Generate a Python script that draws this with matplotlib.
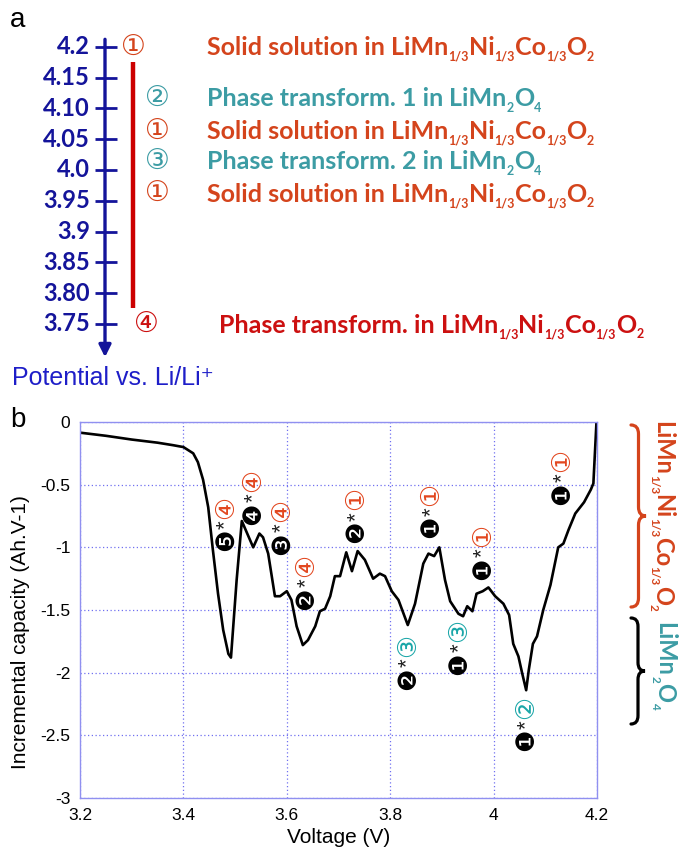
import numpy as np
import matplotlib
matplotlib.use('Agg')
import matplotlib.pyplot as plt
from matplotlib.path import Path
from matplotlib.patches import PathPatch
from matplotlib.transforms import offset_copy

W, H = 681, 858

# ---- panel (a): potential scale and the electrochemical steps ----
scale_ticks = [4.2, 4.15, 4.10, 4.05, 4.0, 3.95, 3.9, 3.85, 3.80, 3.75]
scale_labels = ['4.2', '4.15', '4.10', '4.05', '4.0', '3.95', '3.9', '3.85', '3.80', '3.75']
step_marks = ['①', '②', '①', '③', '①', '④']
step_volts = [4.2, 4.117, 4.064, 4.015, 3.962, 3.75]
step_kinds = ['ss', 'pt', 'ss', 'pt', 'ss', 'ptn']
# formula pieces: (text, is_subscript)
NMC = [('LiMn', False), ('1/3', True), ('Ni', False), ('1/3', True),
       ('Co', False), ('1/3', True), ('O', False), ('2', True)]
LMO = [('LiMn', False), ('2', True), ('O', False), ('4', True)]
step_heads = ['Solid solution in ', 'Phase transform. 1 in ', 'Solid solution in ',
              'Phase transform. 2 in ', 'Solid solution in ', 'Phase transform. in ']
step_phase = [NMC, LMO, NMC, LMO, NMC, NMC]
red_bar = [4.175, 3.776]

# ---- panel (b): incremental capacity curve ----
voltage = [3.200, 3.250, 3.300, 3.350, 3.380, 3.400, 3.419, 3.428, 3.438, 3.448,
           3.457, 3.467, 3.477, 3.487, 3.492, 3.503, 3.513, 3.535, 3.547, 3.554,
           3.564, 3.577, 3.587, 3.600, 3.609, 3.619, 3.631, 3.641, 3.655, 3.664,
           3.674, 3.684, 3.693, 3.703, 3.715, 3.726, 3.737, 3.751, 3.767, 3.780,
           3.790, 3.803, 3.816, 3.834, 3.848, 3.864, 3.874, 3.885, 3.895, 3.906,
           3.916, 3.932, 3.941, 3.949, 3.959, 3.967, 3.979, 3.990, 4.003, 4.019,
           4.030, 4.038, 4.048, 4.055, 4.063, 4.068, 4.076, 4.084, 4.096, 4.110,
           4.125, 4.135, 4.145, 4.158, 4.175, 4.188, 4.193, 4.199]
capacity = [-0.085, -0.110, -0.140, -0.165, -0.185, -0.200, -0.250, -0.320, -0.460, -0.680,
            -1.020, -1.370, -1.660, -1.850, -1.880, -1.260, -0.790, -1.000, -0.890, -0.920,
            -1.050, -1.390, -1.390, -1.350, -1.420, -1.630, -1.780, -1.740, -1.630, -1.510,
            -1.490, -1.390, -1.230, -1.230, -1.040, -1.190, -1.030, -1.100, -1.250, -1.210,
            -1.230, -1.350, -1.420, -1.620, -1.450, -1.130, -1.050, -1.070, -1.000, -1.260,
            -1.430, -1.530, -1.550, -1.470, -1.510, -1.370, -1.350, -1.320, -1.390, -1.450,
            -1.540, -1.770, -1.870, -2.000, -2.140, -1.980, -1.770, -1.710, -1.500, -1.300,
            -1.000, -0.970, -0.860, -0.730, -0.640, -0.540, -0.490, 0.000]

# peak labels: black numbered disc, asterisk, then the step marker above it
peak_v = [3.482, 3.535, 3.590, 3.637, 3.734, 3.879, 3.979, 4.133, 3.834, 3.934, 4.063]
peak_c = [-0.942, -0.729, -0.968, -1.407, -0.876, -0.840, -1.168, -0.569, -2.046, -1.926, -2.538]
peak_num = ['❺', '❹', '❸', '❷', '❷', '❶', '❶', '❶', '❷', '❶', '❶']
peak_step = ['④', '④', '④', '④', '①', '①', '①', '①', '③', '③', '②']

x_ticks = [3.2, 3.4, 3.6, 3.8, 4.0, 4.2]
x_labels = ['3.2', '3.4', '3.6', '3.8', '4', '4.2']
y_ticks = [0, -0.5, -1, -1.5, -2, -2.5, -3]
y_labels = ['0', '-0.5', '-1', '-1.5', '-2', '-2.5', '-3']

NAVY = '#14149a'
ORANGE = '#d4441c'
TEAL = '#3c9ca4'
RED = '#cc1010'
step_colors = {'ss': ORANGE, 'pt': TEAL, 'ptn': RED}
mark_colors = {'①': '#e2461e', '④': '#e2461e', '②': '#1aa6a8', '③': '#1aa6a8'}
GLYPHS = ['DejaVu Sans', 'Noto Sans CJK JP']

fig = plt.figure(figsize=(W / 100, H / 100), dpi=100)
rend = fig.canvas.get_renderer()


def chem_text(x, y, parts, size, color, transform, rotation=0, drop=0.0):
    """Write text with small subscripts piece by piece along the baseline."""
    ang = np.deg2rad(rotation)
    ux, uy = np.cos(ang), np.sin(ang)
    dx, dy = np.sin(ang), -np.cos(ang)
    k = fig.dpi / 72
    pos = 0.0
    for s, sub in parts:
        fs = size * 0.5 if sub else size
        shift = (drop + (size * 0.22 if sub else 0)) * k
        tr = offset_copy(transform, fig=fig, x=pos * ux + shift * dx,
                         y=pos * uy + shift * dy, units='dots')
        fig.text(x, y, s, transform=tr, rotation=rotation, rotation_mode='anchor',
                 ha='left', va='baseline', fontsize=fs, color=color,
                 family='Lato', fontweight='bold')
        probe = fig.text(0, 0, s.replace(' ', '\u00a0'), fontsize=fs,
                         family='Lato', fontweight='bold')
        pos += probe.get_window_extent(rend).width
        probe.remove()


# panel (a) axes: x in layout pixels, y in volts (46.7 px at 4.2 V, 616 px per volt)
a_bottom = 390
axa = fig.add_axes([0, 1 - a_bottom / H, 1, a_bottom / H])
axa.set_xlim(0, W)
axa.set_ylim(4.2 - (a_bottom - 46.7) / 616, 4.2 + 46.7 / 616)
axa.axis('off')

axa.annotate('', xy=(105, 3.696), xytext=(105, 4.212),
             arrowprops=dict(arrowstyle='-|>', color=NAVY, lw=2.4, mutation_scale=18,
                             shrinkA=0, shrinkB=0))
axa.hlines(scale_ticks, 95, 117, color=NAVY, lw=2.0)
for v, lab in zip(scale_ticks, scale_labels):
    axa.text(90, v, lab, ha='right', va='center', color=NAVY, fontsize=17,
             family='Lato', fontweight='bold')

axa.plot([133, 133], red_bar, color='#cc0000', lw=3.2, solid_capstyle='butt')

for i, (m, v, kind) in enumerate(zip(step_marks, step_volts, step_kinds)):
    col = step_colors[kind]
    mx = 133 if i == 0 else (146 if kind == 'ptn' else 157)
    tx = 219 if kind == 'ptn' else 207
    axa.text(mx, v, m, ha='center', va='center', color=col, fontsize=20, family=GLYPHS)
    chem_text(tx, v, [(step_heads[i].rstrip(), False), ('\u00a0', False)] + step_phase[i],
              18, col, axa.transData, drop=6.2)

axa.text(10, 4.243, 'a', ha='left', va='center', fontsize=20, family='Liberation Sans')
axa.text(12, 3.662, 'Potential vs. Li/Li⁺', ha='left', va='center', fontsize=18,
         color='#1e1ec8', family=['Liberation Sans', 'DejaVu Sans'])

# panel (b)
axb = fig.add_axes([80 / W, 1 - 798 / H, 517 / W, 376 / H])
axb.plot(voltage, capacity, color='black', lw=1.9)
axb.set_xlim(3.2, 4.2)
axb.set_ylim(-3, 0)
axb.set_xticks(x_ticks, x_labels)
axb.set_yticks(y_ticks, y_labels)
axb.tick_params(length=0, pad=7, labelsize=12.5)
for lab in axb.get_xticklabels() + axb.get_yticklabels():
    lab.set_family('Liberation Sans')
axb.grid(True, color='#7070f0', ls=(0, (1, 2)), lw=0.9)
for s in axb.spines.values():
    s.set_color('#9090f0')
    s.set_linewidth(1.0)
axb.set_xlabel('Voltage (V)', fontsize=15, family='Liberation Sans', labelpad=4)
axb.set_ylabel('Incremental capacity (Ah.V-1)', fontsize=15, family='Liberation Sans')
axb.yaxis.set_label_coords(-0.097, 0.44)

for v, c, num, step in zip(peak_v, peak_c, peak_num, peak_step):
    axb.annotate(num, (v, c), ha='center', va='center', rotation=90, fontsize=18,
                 family=GLYPHS, color='black')
    axb.annotate('*', (v, c), xytext=(0, 11.2), textcoords='offset points',
                 ha='center', va='center', rotation=90, fontsize=16,
                 family='Liberation Sans', color='#222222')
    axb.annotate(step, (v, c), xytext=(0, 23.8), textcoords='offset points',
                 ha='center', va='center', rotation=90, fontsize=18.5,
                 family=GLYPHS, color=mark_colors[step])

fig.text(10 / W, 1 - 420 / H, 'b', ha='left', va='center', fontsize=20,
         family='Liberation Sans')


def brace(x_end, x_tip, y_top, y_bot, color):
    # right-pointing curly brace, given in figure pixels (y downwards)
    xm = (x_end + x_tip) / 2
    ym = (y_top + y_bot) / 2
    r = (x_tip - x_end) * 0.6
    pts = [(x_end, y_top), (xm, y_top), (xm, y_top + r),
           (xm, ym - r), (xm, ym), (x_tip, ym),
           (xm, ym), (xm, ym + r),
           (xm, y_bot - r), (xm, y_bot), (x_end, y_bot)]
    codes = [Path.MOVETO, Path.CURVE3, Path.CURVE3, Path.LINETO, Path.CURVE3, Path.CURVE3,
             Path.CURVE3, Path.CURVE3, Path.LINETO, Path.CURVE3, Path.CURVE3]
    verts = [(x / W, 1 - y / H) for x, y in pts]
    fig.add_artist(PathPatch(Path(verts, codes), transform=fig.transFigure,
                             fill=False, edgecolor=color, lw=2.3, capstyle='round'))


brace(631, 646, 425, 607, '#d4441c')
brace(631, 645, 618, 724, 'black')
chem_text(655 / W, 1 - 421 / H, NMC, 17, '#d4441c', fig.transFigure, rotation=270)
chem_text(657 / W, 1 - 622 / H, LMO, 17, TEAL, fig.transFigure, rotation=270)

fig.savefig('out.png', dpi=100)
